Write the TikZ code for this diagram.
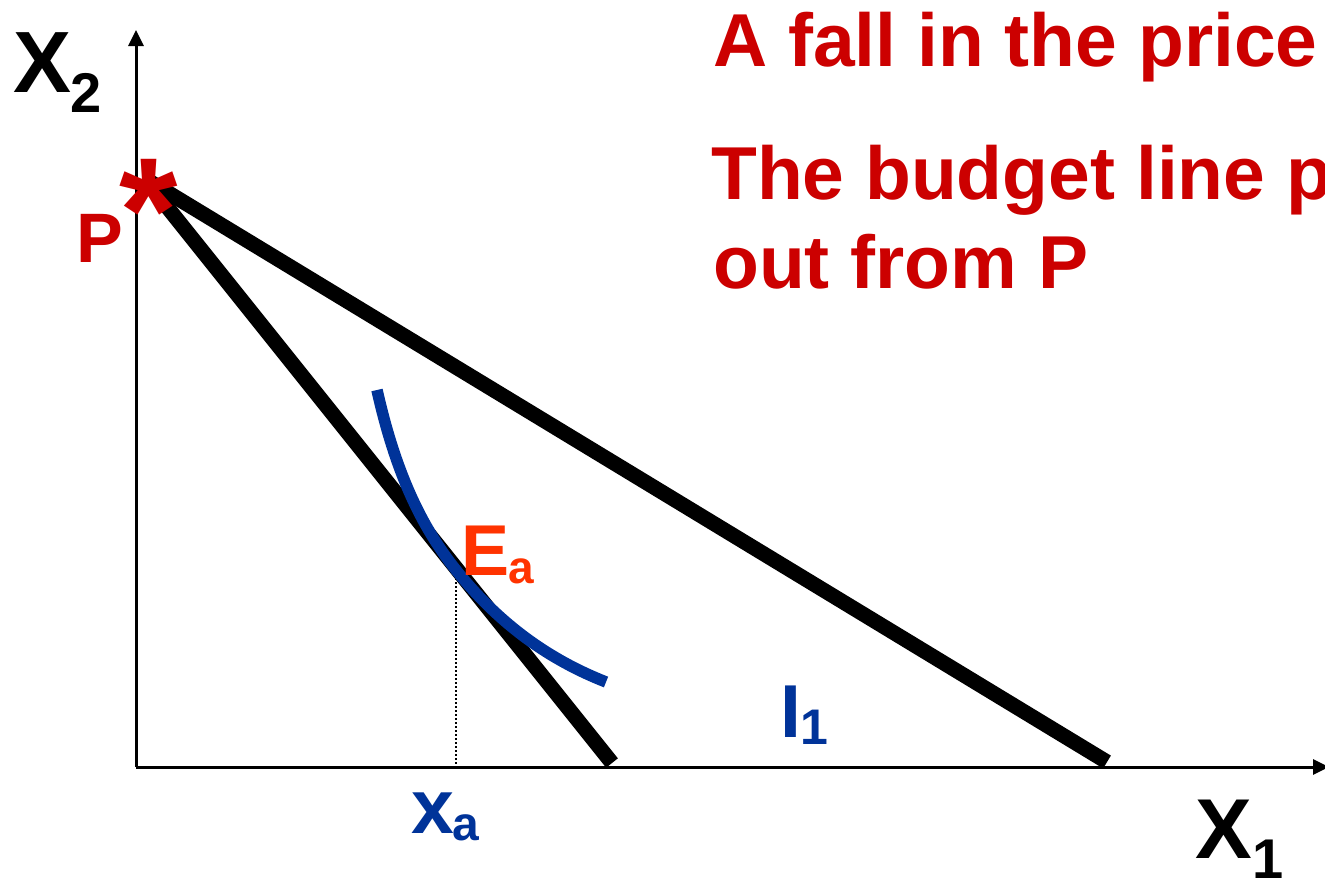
\documentclass[tikz,border=0pt]{standalone}
\usepackage{fontspec}
\setmainfont{Liberation Sans}
\usetikzlibrary{arrows.meta}
\definecolor{tred}{HTML}{CC0000}
\definecolor{tblue}{HTML}{003399}
\definecolor{torange}{HTML}{FF3300}
\newcommand{\fs}[1]{\fontsize{#1}{#1}\selectfont\bfseries}
\begin{document}
\begin{tikzpicture}[x=1pt,y=-1pt,
  lbl/.style={inner sep=0pt,anchor=base west},
  axisline/.style={line width=3pt,-{Triangle[width=15pt,length=16pt]}},
  budget/.style={line width=15pt,line cap=butt},
  icurve/.style={line width=11.5pt,tblue,line cap=butt}]
\useasboundingbox (0,0) rectangle (1325,878);
\clip (0,0) rectangle (1325,878);
\fill[white] (0,0) rectangle (1325,878);
% coordinates
\coordinate (O) at (136,767);
\coordinate (Ytop) at (136,30);
\coordinate (Xend) at (1329,767);
\coordinate (P) at (144,178);
\coordinate (B1) at (612,763);
\coordinate (B2) at (1107,762);
\coordinate (C0) at (377,390);
\coordinate (E) at (456,570);
\coordinate (C1) at (606,682);
\coordinate (Ebase) at (456,767);
% axes
\draw[axisline] (O) -- (Ytop);
\draw[axisline] (O) -- (Xend);
% budget lines
\draw[budget] (P) -- (B1);
\draw[budget] (P) -- (B2);
% dotted
\draw[line width=2pt,dotted] (E) -- (Ebase);
% indifference curve
\draw[icurve] (C0) .. controls (395,470) and (420,525) .. (E)
  .. controls (500,625) and (550,660) .. (C1);
% asterisk
\node[inner sep=0pt,anchor=base,text=tred] (star) at (149,262) {\fs{150}*};
% labels
\node[lbl] (x2) at (13,92) {\fs{87}X};
\node[lbl] (x2s) at (70,112) {\fs{56}2};
\node[lbl] (x1) at (1195,858) {\fs{85}X};
\node[lbl] (x1s) at (1252,878) {\fs{56}1};
\node[lbl,text=tred] (Plbl) at (76,262) {\fs{70}P};
\node[lbl,text=torange] (Ea) at (461,575) {\fs{72}E};
\node[lbl,text=torange] (Eas) at (508,583) {\fs{46}a};
\node[lbl,text=tblue] (xa) at (411,833) {\fs{77}x};
\node[lbl,text=tblue] (xas) at (452,840) {\fs{48}a};
\node[lbl,text=tblue] (I1) at (780,737) {\fs{75}I};
\node[lbl,text=tblue] (I1s) at (800,744) {\fs{50}1};
\node[lbl,text=tred] (t1) at (713,66) {\fs{75}A fall in the price};
\node[lbl,text=tred] (t2) at (711,199) {\fs{75}The budget line p};
\node[lbl,text=tred] (t3) at (713,288) {\fs{75}out from P};
\end{tikzpicture}
\end{document}
